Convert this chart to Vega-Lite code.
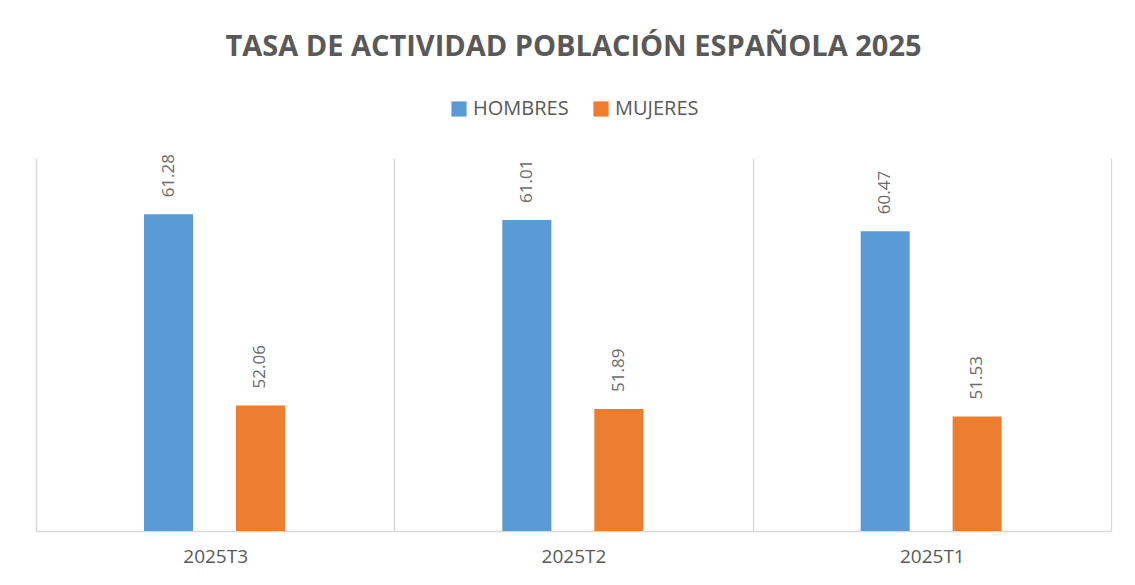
{
  "$schema": "https://vega.github.io/schema/vega-lite/v6.json",
  "width": 1075,
  "height": 373,
  "autosize": {"type": "none"},
  "padding": {"left": 36, "top": 158, "right": 24, "bottom": 54},
  "background": "white",
  "title": {
    "text": "TASA DE ACTIVIDAD POBLACIÓN ESPAÑOLA 2025",
    "anchor": "middle",
    "frame": "group",
    "font": "Open Sans",
    "fontSize": 29,
    "fontWeight": "bold",
    "color": "#595959",
    "baseline": "alphabetic",
    "offset": 14
  },
  "data": {
    "values": [
      {"trimestre": "2025T3", "sexo": "HOMBRES", "tasa": 61.28},
      {"trimestre": "2025T3", "sexo": "MUJERES", "tasa": 52.06},
      {"trimestre": "2025T2", "sexo": "HOMBRES", "tasa": 61.01},
      {"trimestre": "2025T2", "sexo": "MUJERES", "tasa": 51.89},
      {"trimestre": "2025T1", "sexo": "HOMBRES", "tasa": 60.47},
      {"trimestre": "2025T1", "sexo": "MUJERES", "tasa": 51.53}
    ]
  },
  "encoding": {
    "x": {
      "field": "trimestre",
      "type": "nominal",
      "sort": null,
      "scale": {"paddingInner": 0, "paddingOuter": 0},
      "axis": {
        "title": null,
        "labelAngle": 0,
        "labelFont": "Open Sans",
        "labelFontSize": 19,
        "labelColor": "#595959",
        "labelPadding": 16,
        "ticks": false,
        "grid": true,
        "tickBand": "extent",
        "gridColor": "#d9d9d9",
        "gridWidth": 1.3,
        "domainColor": "#d9d9d9",
        "domainWidth": 1.5
      }
    },
    "xOffset": {
      "field": "sexo",
      "type": "nominal",
      "scale": {"range": [108, 249], "paddingInner": 0.467, "paddingOuter": 0}
    },
    "y": {
      "field": "tasa",
      "type": "quantitative",
      "scale": {"domain": [46, 64], "zero": false, "nice": false},
      "axis": null
    }
  },
  "layer": [
    {
      "mark": {"type": "bar", "clip": true},
      "encoding": {
        "color": {
          "field": "sexo",
          "type": "nominal",
          "scale": {"domain": ["HOMBRES", "MUJERES"], "range": ["#5b9bd5", "#ed7d31"]},
          "legend": {
            "title": null,
            "orient": "none",
            "direction": "horizontal",
            "legendX": 413,
            "legendY": -59,
            "symbolType": "square",
            "symbolSize": 230,
            "symbolStrokeWidth": 0,
            "labelFont": "Open Sans",
            "labelFontSize": 20,
            "labelColor": "#595959",
            "labelOffset": 4,
            "columnPadding": 22
          }
        }
      }
    },
    {
      "mark": {
        "type": "text",
        "angle": 270,
        "align": "left",
        "baseline": "middle",
        "dx": 17,
        "font": "Open Sans",
        "fontSize": 17,
        "color": "#6b6b6b"
      },
      "encoding": {
        "text": {"field": "tasa", "type": "quantitative", "format": ".2f"}
      }
    }
  ],
  "config": {
    "view": {"stroke": null}
  }
}
